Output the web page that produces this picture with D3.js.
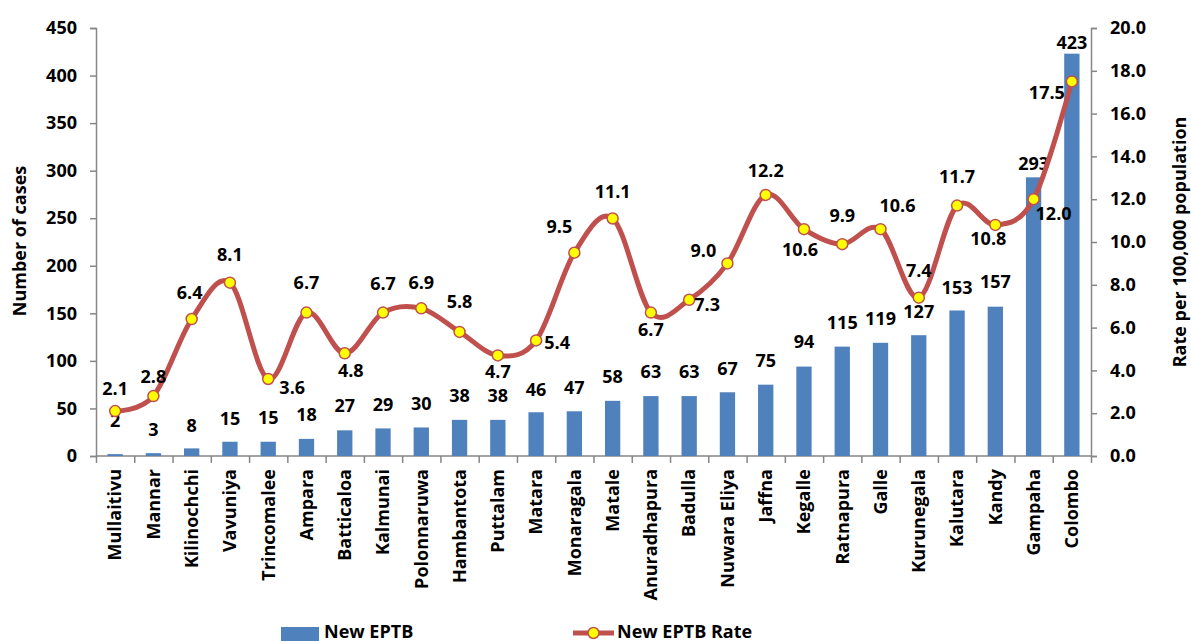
<!DOCTYPE html>
<html>
<head>
<meta charset="utf-8">
<script src="https://cdn.jsdelivr.net/npm/d3@7"></script>
<style>
  body { margin: 0; background: #fff; }
  text { font-family: "Open Sans", "Noto Sans", sans-serif; font-weight: bold; fill: #000; }
  .axis path, .axis line { stroke: #868686; stroke-width: 1.5; }
</style>
</head>
<body>
<div id="chart"></div>
<script>
var categories = ["Mullaitivu","Mannar","Kilinochchi","Vavuniya","Trincomalee","Ampara","Batticaloa",
  "Kalmunai","Polonnaruwa","Hambantota","Puttalam","Matara","Monaragala","Matale","Anuradhapura",
  "Badulla","Nuwara Eliya","Jaffna","Kegalle","Ratnapura","Galle","Kurunegala","Kalutara","Kandy",
  "Gampaha","Colombo"];
var cases = [2,3,8,15,15,18,27,29,30,38,38,46,47,58,63,63,67,75,94,115,119,127,153,157,293,423];
var rates = [2.1,2.8,6.4,8.1,3.6,6.7,4.8,6.7,6.9,5.8,4.7,5.4,9.5,11.1,6.7,7.3,9.0,12.2,10.6,9.9,10.6,7.4,11.7,10.8,12.0,17.5];
var leftTicks = [0,50,100,150,200,250,300,350,400,450];
var rightTicks = [0,2,4,6,8,10,12,14,16,18,20];

// label placement (px offsets from the point), as arranged in the original
var rateLabelOffset = [[0,-22],[0,-19],[-2,-26],[0,-28],[24,9],[0,-30],[6,17],[0,-29],[0,-26],[0,-30],
  [0,16],[21,2],[-15,-26],[0,-27],[0,17],[18,5],[-24,-13],[0,-24],[-4,21],[0,-28],[17,-23],[0,-27],
  [0,-29],[-7,14],[20,14],[-25,11]];
var barLabelDy = [-33,-23,-23,-23,-24,-24,-25,-24,-24,-24,-24,-23,-24,-24,-24,-24,-24,-24,-25,-24,-24,-24,-23,-25,-14,-11];

var W = 1191, H = 641;
var plotLeft = 96, plotRight = 1091, plotTop = 28, plotBottom = 456;
var fs = '18px';

var svg = d3.select('#chart').append('svg')
    .attr('width', W)
    .attr('height', H);

var x = d3.scaleBand().domain(categories).range([plotLeft, plotRight]),
    xEdge = d3.scaleLinear().domain([0, categories.length]).range([plotLeft, plotRight]),
    yL = d3.scaleLinear().domain([0, 450]).range([plotBottom, plotTop]),
    yR = d3.scaleLinear().domain([0, 20]).range([plotBottom, plotTop]);

var cx = function(i) { return x(categories[i]) + x.bandwidth() / 2; };
var barW = x.bandwidth() * 0.4;

// axes
svg.append('g')
    .attr('class', 'axis')
    .attr('transform', 'translate(' + plotLeft + ',0)')
    .call(d3.axisLeft(yL).tickValues(leftTicks).tickSize(6).tickPadding(13))
    .selectAll('text').style('font-size', fs);

svg.append('g')
    .attr('class', 'axis')
    .attr('transform', 'translate(' + plotRight + ',0)')
    .call(d3.axisRight(yR).tickValues(rightTicks).tickSize(6).tickPadding(13)
      .tickFormat(d3.format('.1f')))
    .selectAll('text').style('font-size', fs);

svg.append('g')
    .attr('class', 'axis')
    .attr('transform', 'translate(0,' + plotBottom + ')')
    .call(d3.axisBottom(xEdge).tickValues(d3.range(categories.length + 1)).tickSize(7).tickFormat(''))
    .select('.domain').attr('d', 'M' + plotLeft + ',0H' + plotRight);

// category labels
svg.append('g').selectAll('text')
    .data(categories)
  .enter().append('text')
    .attr('transform', function(d, i) { return 'translate(' + cx(i) + ',469) rotate(-90)'; })
    .attr('dy', '0.35em')
    .style('text-anchor', 'end')
    .style('font-size', fs)
    .text(function(d) { return d; });

// axis titles
svg.append('text')
    .attr('transform', 'translate(20,241) rotate(-90)')
    .attr('dy', '0.35em')
    .style('text-anchor', 'middle')
    .style('font-size', fs)
    .text('Number of cases');

svg.append('text')
    .attr('transform', 'translate(1180,242) rotate(-90)')
    .attr('dy', '0.35em')
    .style('text-anchor', 'middle')
    .style('font-size', fs)
    .text('Rate per 100,000 population');

// bars
svg.append('g').selectAll('rect')
    .data(cases)
  .enter().append('rect')
    .attr('x', function(d, i) { return cx(i) - barW / 2; })
    .attr('y', function(d) { return yL(d); })
    .attr('width', barW)
    .attr('height', function(d) { return plotBottom - yL(d); })
    .style('fill', '#4f81bd');

svg.append('g').selectAll('text')
    .data(cases)
  .enter().append('text')
    .attr('x', function(d, i) { return cx(i); })
    .attr('y', function(d, i) { return yL(d) + barLabelDy[i]; })
    .attr('dy', '0.35em')
    .style('text-anchor', 'middle')
    .style('font-size', fs)
    .text(function(d) { return d; });

// rate line
var line = d3.line()
    .x(function(d, i) { return cx(i); })
    .y(function(d) { return yR(d); })
    .curve(d3.curveCardinal.tension(0));

svg.append('path')
    .datum(rates)
    .attr('d', line)
    .style('fill', 'none')
    .style('stroke', '#c0504d')
    .style('stroke-width', 5);

svg.append('g').selectAll('circle')
    .data(rates)
  .enter().append('circle')
    .attr('cx', function(d, i) { return cx(i); })
    .attr('cy', function(d) { return yR(d); })
    .attr('r', 5.5)
    .style('fill', '#ffff00')
    .style('stroke', '#c0504d')
    .style('stroke-width', 1.5);

svg.append('g').selectAll('text')
    .data(rates)
  .enter().append('text')
    .attr('x', function(d, i) { return cx(i) + rateLabelOffset[i][0]; })
    .attr('y', function(d, i) { return yR(d) + rateLabelOffset[i][1]; })
    .attr('dy', '0.35em')
    .style('text-anchor', 'middle')
    .style('font-size', fs)
    .text(function(d) { return d.toFixed(1); });

// legend
var legend = svg.append('g');
legend.append('rect')
    .attr('x', 281).attr('y', 627)
    .attr('width', 38).attr('height', 14)
    .style('fill', '#4f81bd');
legend.append('text')
    .attr('x', 324).attr('y', 632)
    .attr('dy', '0.35em')
    .style('font-size', fs)
    .text('New EPTB');
legend.append('line')
    .attr('x1', 573).attr('x2', 614)
    .attr('y1', 633).attr('y2', 633)
    .style('stroke', '#c0504d')
    .style('stroke-width', 5);
legend.append('circle')
    .attr('cx', 593.5).attr('cy', 633).attr('r', 5.5)
    .style('fill', '#ffff00')
    .style('stroke', '#c0504d')
    .style('stroke-width', 1.5);
legend.append('text')
    .attr('x', 617).attr('y', 632)
    .attr('dy', '0.35em')
    .style('font-size', fs)
    .text('New EPTB Rate');
</script>
</body>
</html>
